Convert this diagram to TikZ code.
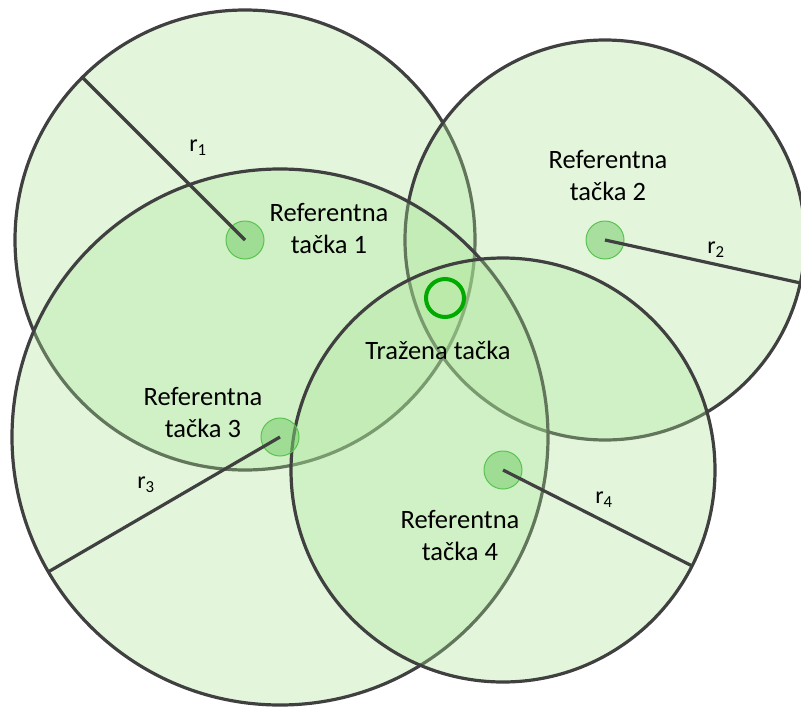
\documentclass[tikz,border=0pt]{standalone}
\usepackage{fontspec}
\setmainfont{Carlito}
\usetikzlibrary{calc}
\definecolor{zone}{RGB}{170,228,150}
\definecolor{rim}{RGB}{64,64,64}
\definecolor{dotfill}{RGB}{120,205,110}
\definecolor{dotline}{RGB}{90,195,80}
\definecolor{target}{RGB}{0,170,0}
\tikzset{
  zonec/.style={circle, inner sep=0pt, outer sep=0pt, draw=rim, line width=3.2pt, fill=zone, fill opacity=0.33, draw opacity=1},
  refdot/.style={circle, inner sep=0pt, minimum size=38pt, draw=dotline, line width=1pt, fill=dotfill, fill opacity=0.55},
  radline/.style={draw=rim, line width=3.2pt},
  lbl/.style={font=\fontsize{26.5}{32}\selectfont, align=center, text=black, inner sep=0pt},
  rlbl/.style={font=\fontsize{24}{28}\selectfont, text=black, inner sep=0pt},
}
\begin{document}
\begin{tikzpicture}[x=1pt,y=-1pt]
\useasboundingbox (0,0) rectangle (801,707);
% zones
\node[zonec, minimum size=460] (C1) at (245,240) {};
\node[zonec, minimum size=400] (C2) at (605,240) {};
\node[zonec, minimum size=536] (C3) at (280,437) {};
\node[zonec, minimum size=424] (C4) at (503,470) {};
% radius ends
\coordinate (e1) at ($(C1.center)+(225:230)$);
\coordinate (e2) at ($(C2.center)+(12.4:200)$);
\coordinate (e3) at ($(C3.center)+(149.8:268)$);
\coordinate (e4) at ($(C4.center)+(26.9:212)$);
% reference dots
\node[refdot] (d1) at (C1.center) {};
\node[refdot] (d2) at (C2.center) {};
\node[refdot] (d3) at (C3.center) {};
\node[refdot] (d4) at (C4.center) {};
% radii
\draw[radline] (d1.center) -- (e1);
\draw[radline] (d2.center) -- (e2);
\draw[radline] (d3.center) -- (e3);
\draw[radline] (d4.center) -- (e4);
% target
\node[circle, draw=target, line width=4pt, minimum size=38pt, inner sep=0pt] (T) at (445,298) {};
% labels
\node[lbl] (L1) at (329,229) {Referentna\\tačka 1};
\node[lbl] (L2) at (608,176) {Referentna\\tačka 2};
\node[lbl] (L3) at (203,413) {Referentna\\tačka 3};
\node[lbl] (L4) at (460,536) {Referentna\\tačka 4};
\node[lbl] (LT) at (438,350) {Tražena tačka};
\node[rlbl] (r1) at (198,148) {r\textsubscript{1}};
\node[rlbl] (r2) at (716,250) {r\textsubscript{2}};
\node[rlbl] (r3) at (146,485) {r\textsubscript{3}};
\node[rlbl] (r4) at (604,500) {r\textsubscript{4}};
\end{tikzpicture}
\end{document}
